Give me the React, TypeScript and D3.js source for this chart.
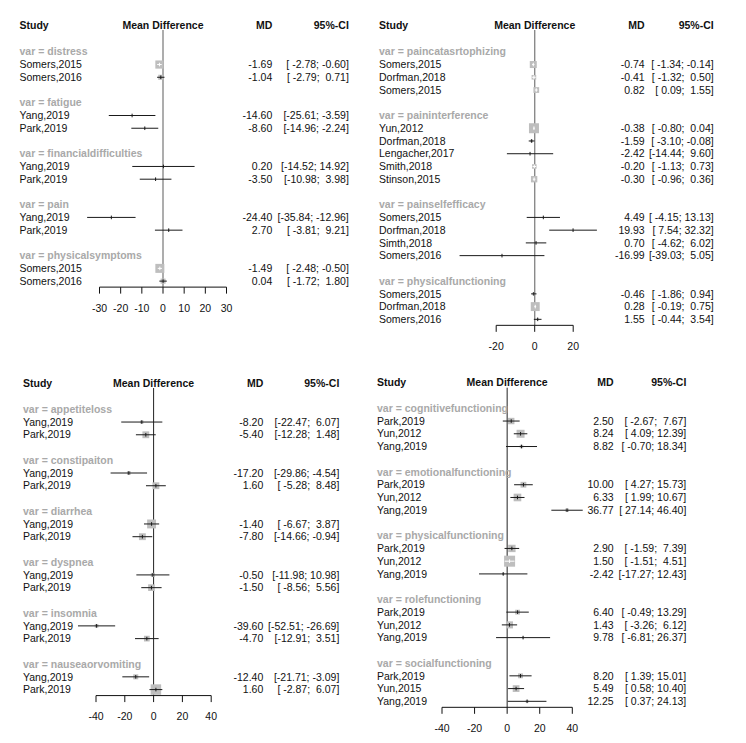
import React from "react";
import * as d3 from "d3";

// ---------- Panel A (top-left) ----------
const groupsA = ["distress", "fatigue", "financialdifficulties", "pain", "physicalsymptoms"];
const studiesA = ["Somers,2015", "Somers,2016", "Yang,2019", "Park,2019", "Yang,2019", "Park,2019", "Yang,2019", "Park,2019", "Somers,2015", "Somers,2016"];
const groupOfA = [0, 0, 1, 1, 2, 2, 3, 3, 4, 4];
const mdA = [-1.69, -1.04, -14.6, -8.6, 0.2, -3.5, -24.4, 2.7, -1.49, 0.04];
const lowerA = [-2.78, -2.79, -25.61, -14.96, -14.52, -10.98, -35.84, -3.81, -2.48, -1.72];
const upperA = [-0.6, 0.71, -3.59, -2.24, 14.92, 3.98, -12.96, 9.21, -0.5, 1.8];
const ticksA = [-30, -20, -10, 0, 10, 20, 30];

// ---------- Panel B (top-right) ----------
const groupsB = ["paincatasrtophizing", "paininterference", "painselfefficacy", "physicalfunctioning"];
const studiesB = ["Somers,2015", "Dorfman,2018", "Somers,2015", "Yun,2012", "Dorfman,2018", "Lengacher,2017", "Smith,2018", "Stinson,2015", "Somers,2015", "Dorfman,2018", "Simth,2018", "Somers,2016", "Somers,2015", "Dorfman,2018", "Somers,2016"];
const groupOfB = [0, 0, 0, 1, 1, 1, 1, 1, 2, 2, 2, 2, 3, 3, 3];
const mdB = [-0.74, -0.41, 0.82, -0.38, -1.59, -2.42, -0.2, -0.3, 4.49, 19.93, 0.7, -16.99, -0.46, 0.28, 1.55];
const lowerB = [-1.34, -1.32, 0.09, -0.8, -3.1, -14.44, -1.13, -0.96, -4.15, 7.54, -4.62, -39.03, -1.86, -0.19, -0.44];
const upperB = [-0.14, 0.5, 1.55, 0.04, -0.08, 9.6, 0.73, 0.36, 13.13, 32.32, 6.02, 5.05, 0.94, 0.75, 3.54];
const ticksB = [-20, 0, 20];

// ---------- Panel C (bottom-left) ----------
const groupsC = ["appetiteloss", "constipaiton", "diarrhea", "dyspnea", "insomnia", "nauseaorvomiting"];
const studiesC = ["Yang,2019", "Park,2019", "Yang,2019", "Park,2019", "Yang,2019", "Park,2019", "Yang,2019", "Park,2019", "Yang,2019", "Park,2019", "Yang,2019", "Park,2019"];
const groupOfC = [0, 0, 1, 1, 2, 2, 3, 3, 4, 4, 5, 5];
const mdC = [-8.2, -5.4, -17.2, 1.6, -1.4, -7.8, -0.5, -1.5, -39.6, -4.7, -12.4, 1.6];
const lowerC = [-22.47, -12.28, -29.86, -5.28, -6.67, -14.66, -11.98, -8.56, -52.51, -12.91, -21.71, -2.87];
const upperC = [6.07, 1.48, -4.54, 8.48, 3.87, -0.94, 10.98, 5.56, -26.69, 3.51, -3.09, 6.07];
const ticksC = [-40, -20, 0, 20, 40];

// ---------- Panel D (bottom-right) ----------
const groupsD = ["cognitivefunctioning", "emotionalfunctioning", "physicalfunctioning", "rolefunctioning", "socialfunctioning"];
const studiesD = ["Park,2019", "Yun,2012", "Yang,2019", "Park,2019", "Yun,2012", "Yang,2019", "Park,2019", "Yun,2012", "Yang,2019", "Park,2019", "Yun,2012", "Yang,2019", "Park,2019", "Yun,2015", "Yang,2019"];
const groupOfD = [0, 0, 0, 1, 1, 1, 2, 2, 2, 3, 3, 3, 4, 4, 4];
const mdD = [2.5, 8.24, 8.82, 10.0, 6.33, 36.77, 2.9, 1.5, -2.42, 6.4, 1.43, 9.78, 8.2, 5.49, 12.25];
const lowerD = [-2.67, 4.09, -0.7, 4.27, 1.99, 27.14, -1.59, -1.51, -17.27, -0.49, -3.26, -6.81, 1.39, 0.58, 0.37];
const upperD = [7.67, 12.39, 18.34, 15.73, 10.67, 46.4, 7.39, 4.51, 12.43, 13.29, 6.12, 26.37, 15.01, 10.4, 24.13];
const ticksD = [-40, -20, 0, 20, 40];

// ---------- layout (positions / styles) ----------
const FONT = "'Liberation Sans', Arial, sans-serif";
const FS = 10.5;
const ROW_H = 12.74;

type Layout = {
  textX: number; mdRight: number; ciRight: number; headerY: number; row0: number;
  range: [number, number]; maxSquare: number; zeroColor: string; zeroWidth: number;
};

const layouts: Layout[] = [
  { textX: 19.5, mdRight: 272.3, ciRight: 348.8, headerY: 25, row0: 51.8, range: [99.5, 226.5], maxSquare: 9, zeroColor: "#8a8a8a", zeroWidth: 1.4 },
  { textX: 379, mdRight: 644.7, ciRight: 713.7, headerY: 25, row0: 51.8, range: [496.2, 573.2], maxSquare: 10, zeroColor: "#8a8a8a", zeroWidth: 1.4 },
  { textX: 23, mdRight: 263.3, ciRight: 339.3, headerY: 383, row0: 409.3, range: [96, 211.2], maxSquare: 10.5, zeroColor: "#222", zeroWidth: 1 },
  { textX: 377, mdRight: 613.7, ciRight: 686.3, headerY: 382.7, row0: 408.3, range: [442, 572.3], maxSquare: 11, zeroColor: "#222", zeroWidth: 1 },
];

const panelsData = [
  { groups: groupsA, studies: studiesA, groupOf: groupOfA, md: mdA, lower: lowerA, upper: upperA, ticks: ticksA },
  { groups: groupsB, studies: studiesB, groupOf: groupOfB, md: mdB, lower: lowerB, upper: upperB, ticks: ticksB },
  { groups: groupsC, studies: studiesC, groupOf: groupOfC, md: mdC, lower: lowerC, upper: upperC, ticks: ticksC },
  { groups: groupsD, studies: studiesD, groupOf: groupOfD, md: mdD, lower: lowerD, upper: upperD, ticks: ticksD },
];

const locale = d3.formatLocale({ decimal: ".", thousands: ",", grouping: [3], currency: ["", ""], minus: "-" });
const fmt = locale.format(".2f");
function ciText(lo: number, up: number) {
  let l = fmt(lo);
  let u = fmt(up);
  if (l.length < 6) l = " " + l;
  if (u.length < 5) u = " " + u;
  return "[" + l + "; " + u + "]";
}

function Panel({ data, lay }: { data: typeof panelsData[0]; lay: Layout }) {
  const { groups, studies, groupOf, md, lower, upper, ticks } = data;
  const x = d3.scaleLinear().domain([d3.min(ticks)!, d3.max(ticks)!]).range(lay.range);
  const rows: { kind: "group" | "study"; idx: number; y: number }[] = [];
  let r = 0;
  groups.forEach((g, gi) => {
    if (gi > 0) r++;
    rows.push({ kind: "group", idx: gi, y: lay.row0 + r * ROW_H });
    r++;
    studies.forEach((s, si) => {
      if (groupOf[si] === gi) {
        rows.push({ kind: "study", idx: si, y: lay.row0 + r * ROW_H });
        r++;
      }
    });
  });
  const lastY = lay.row0 + (r - 1) * ROW_H;
  const axisY = lastY + 6;
  const minW = d3.min(studies.map((_, i) => upper[i] - lower[i]))!;
  const x0 = x(0);
  const dy = "0.35em";
  return (
    <g fontFamily={FONT} fontSize={FS}>
      <text x={lay.textX} y={lay.headerY} dy={dy} fontWeight="bold" fill="#111">Study</text>
      <text x={(lay.range[0] + lay.range[1]) / 2} y={lay.headerY} dy={dy} fontWeight="bold" textAnchor="middle" fill="#111">Mean Difference</text>
      <text x={lay.mdRight} y={lay.headerY} dy={dy} fontWeight="bold" textAnchor="end" fill="#111">MD</text>
      <text x={lay.ciRight} y={lay.headerY} dy={dy} fontWeight="bold" textAnchor="end" fill="#111">95%-CI</text>
      <line x1={x0} x2={x0} y1={lay.headerY + 5} y2={axisY} stroke={lay.zeroColor} strokeWidth={lay.zeroWidth} />
      {rows.map((row, k) => {
        if (row.kind === "group") {
          return (
            <text key={k} x={lay.textX} y={row.y} dy={dy} fontWeight="bold" fill="#a9a9a9">
              {"var = " + groups[row.idx]}
            </text>
          );
        }
        const i = row.idx;
        const s = (lay.maxSquare * minW) / (upper[i] - lower[i]);
        const cx = x(md[i]);
        const inside = x(lower[i]) >= cx - s / 2 && x(upper[i]) <= cx + s / 2;
        const col = inside ? "#fff" : "#1a1a1a";
        return (
          <g key={k}>
            <text x={lay.textX} y={row.y} dy={dy} fill="#111">{studies[i]}</text>
            <rect x={cx - s / 2} y={row.y - s / 2} width={s} height={s} fill="#bebebe" />
            <line x1={x(lower[i])} x2={x(upper[i])} y1={row.y} y2={row.y} stroke={col} strokeWidth={1} />
            <line x1={cx} x2={cx} y1={row.y - 1.8} y2={row.y + 1.8} stroke={col} strokeWidth={1} />
            <text x={lay.mdRight} y={row.y} dy={dy} textAnchor="end" fill="#111">{fmt(md[i])}</text>
            <text x={lay.ciRight} y={row.y} dy={dy} textAnchor="end" fill="#111" style={{ whiteSpace: "pre" }}>
              {ciText(lower[i], upper[i])}
            </text>
          </g>
        );
      })}
      <line x1={x(d3.min(ticks)!)} x2={x(d3.max(ticks)!)} y1={axisY} y2={axisY} stroke="#111" strokeWidth={1} />
      {ticks.map((t) => (
        <g key={t}>
          <line x1={x(t)} x2={x(t)} y1={axisY} y2={axisY + 6.5} stroke="#111" strokeWidth={1} />
          <text x={x(t)} y={axisY + 21} dy={dy} textAnchor="middle" fill="#111">{String(t)}</text>
        </g>
      ))}
    </g>
  );
}

export default function App() {
  return (
    <svg
      width={746}
      height={743}
      style={{ position: "absolute", left: 0, top: 0, background: "#fff" }}
    >
      <rect width={746} height={743} fill="#fff" />
      {panelsData.map((d, i) => (
        <Panel key={i} data={d} lay={layouts[i]} />
      ))}
    </svg>
  );
}
